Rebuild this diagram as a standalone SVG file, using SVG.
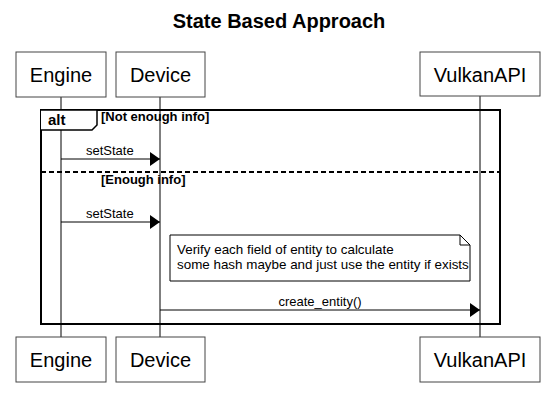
<svg xmlns="http://www.w3.org/2000/svg" width="555" height="406" viewBox="0 0 555 406">
<defs>
<style>
.box{fill:#fff;stroke:#444;stroke-width:1}
.pt{font-family:"Liberation Sans",Arial,sans-serif;font-size:20px;fill:#000;text-anchor:middle}
.life{stroke:#000;stroke-width:1}
.msg{stroke:#000;stroke-width:1;fill:none}
.lbl{font-family:"Liberation Sans",Arial,sans-serif;font-size:13px;fill:#000}
.nt{font-family:"Liberation Sans",Arial,sans-serif;font-size:13.4px;fill:#000}
.grd{font-family:"Liberation Sans",Arial,sans-serif;font-size:13px;font-weight:bold;fill:#000}
.frame{fill:none;stroke:#000;stroke-width:2}
</style>
<marker id="ah" viewBox="0 0 10 14" refX="10" refY="7" markerWidth="10" markerHeight="14" markerUnits="userSpaceOnUse" orient="auto">
<path d="M0,0 L10,7 L0,14 Z" fill="#000"/>
</marker>
</defs>
<rect width="555" height="406" fill="#fff"/>
<text x="279" y="28" font-family="'Liberation Sans',Arial,sans-serif" font-size="20" font-weight="bold" text-anchor="middle">State Based Approach</text>

<g id="lifelines">
<line class="life" x1="61" y1="97" x2="61" y2="337"/>
<line class="life" x1="160" y1="97" x2="160" y2="337"/>
<line class="life" x1="480" y1="96" x2="480" y2="337"/>
</g>

<g id="alt-frame">
<rect class="frame" x="41" y="110" width="459" height="214"/>
<path d="M41,110 L97,110 L97,125 L92,130 L41,130" fill="#fff" stroke="#000" stroke-width="1.5"/>
<text x="48" y="125" font-family="'Liberation Sans',Arial,sans-serif" font-size="15" font-weight="bold">alt</text>
<text class="grd" x="101" y="121">[Not enough info]</text>
<line x1="41" y1="172" x2="500" y2="172" stroke="#000" stroke-width="2" stroke-dasharray="5,3"/>
<text class="grd" x="101" y="184">[Enough info]</text>
</g>

<g id="connectors">
<line class="msg" x1="61" y1="159" x2="160" y2="159" marker-end="url(#ah)"/>
<text class="lbl" x="86" y="155">setState</text>
<line class="msg" x1="61" y1="222" x2="160" y2="222" marker-end="url(#ah)"/>
<text class="lbl" x="86" y="218">setState</text>
<line class="msg" x1="160" y1="310" x2="480" y2="310" marker-end="url(#ah)"/>
<text class="lbl" x="320" y="306" text-anchor="middle">create_entity()</text>
</g>

<g id="note">
<path d="M170,235 L460,235 L470,245 L470,281 L170,281 Z" fill="#fff" stroke="#000" stroke-width="1"/>
<path d="M460,235 L460,245 L470,245" fill="none" stroke="#000" stroke-width="1"/>
<text class="nt" x="177" y="254">Verify each field of entity to calculate</text>
<text class="nt" x="177" y="269">some hash maybe and just use the entity if exists</text>
</g>

<g id="engine-top"><rect class="box" x="16" y="52" width="90" height="45"/><text class="pt" x="61" y="82">Engine</text></g>
<g id="device-top"><rect class="box" x="116" y="52" width="89" height="45"/><text class="pt" x="160.5" y="82">Device</text></g>
<g id="vulkan-top"><rect class="box" x="420" y="52" width="120" height="44"/><text class="pt" x="480" y="82">VulkanAPI</text></g>
<g id="engine-bottom"><rect class="box" x="16" y="337" width="90" height="45"/><text class="pt" x="61" y="367">Engine</text></g>
<g id="device-bottom"><rect class="box" x="116" y="337" width="89" height="45"/><text class="pt" x="160.5" y="367">Device</text></g>
<g id="vulkan-bottom"><rect class="box" x="420" y="337" width="120" height="45"/><text class="pt" x="480" y="367">VulkanAPI</text></g>
</svg>
